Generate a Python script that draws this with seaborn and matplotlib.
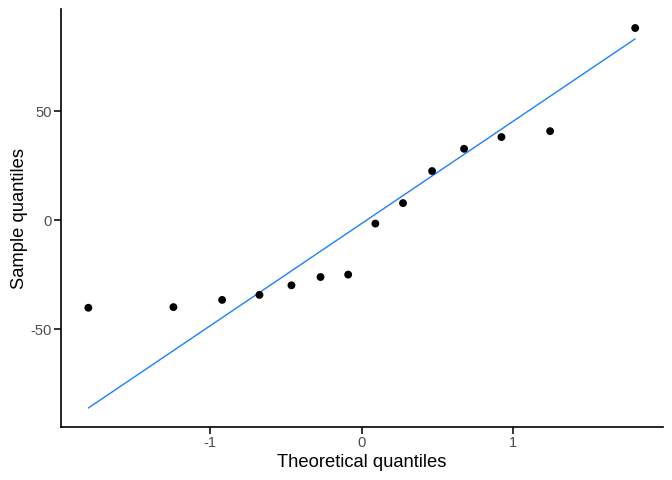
import numpy as np
import pandas as pd
import matplotlib
matplotlib.use("Agg")
import matplotlib.pyplot as plt
import seaborn as sns
from statistics import NormalDist

# Sample values (sorted)
sample = [-40.1, -39.8, -36.5, -34.2, -29.8, -26.0, -24.9,
          -1.5, 7.9, 22.6, 32.8, 38.2, 40.9, 88.2]
x_ticks = [-1, 0, 1]
y_ticks = [-50, 0, 50]
x_title = "Theoretical quantiles"
y_title = "Sample quantiles"

n = len(sample)
nd = NormalDist()
a = 0.5 if n > 10 else 3 / 8
probs = [(i + 1 - a) / (n + 1 - 2 * a) for i in range(n)]
theo = [nd.inv_cdf(p) for p in probs]
df = pd.DataFrame({"theo": theo, "sample": sorted(sample)})

# qq line through quartiles
q = np.percentile(df["sample"], [25, 75])
tq = [nd.inv_cdf(0.25), nd.inv_cdf(0.75)]
slope = (q[1] - q[0]) / (tq[1] - tq[0])
intercept = q[0] - slope * tq[0]
line_df = pd.DataFrame({"theo": [min(theo), max(theo)]})
line_df["fit"] = intercept + slope * line_df["theo"]

sns.set_theme(style="ticks")
plt.rcParams["font.family"] = ["Liberation Sans", "DejaVu Sans"]

fig = plt.figure(figsize=(6.72, 4.8), dpi=100)
ax = fig.add_axes([0.0908, 0.1104, 0.8951, 0.8708])

sns.scatterplot(data=df, x="theo", y="sample", ax=ax, color="black",
                s=32, edgecolor="none", zorder=3)
sns.lineplot(data=line_df, x="theo", y="fit", ax=ax, color="#1E7FFF",
             linewidth=1.0, zorder=2)

xr = max(theo) - min(theo)
ax.set_xlim(min(theo) - 0.05 * xr, max(theo) + 0.05 * xr)
ymin = min(min(sample), line_df["fit"].min())
ymax = max(max(sample), line_df["fit"].max())
yr = ymax - ymin
ax.set_ylim(ymin - 0.05 * yr, ymax + 0.05 * yr)

ax.set_xticks(x_ticks, labels=[str(t) for t in x_ticks])
ax.set_yticks(y_ticks, labels=[str(t) for t in y_ticks])
for side in ["top", "right"]:
    ax.spines[side].set_visible(False)
for side in ["left", "bottom"]:
    ax.spines[side].set_linewidth(1.2)
    ax.spines[side].set_color("black")

ax.set_xlabel(x_title, fontsize=13.2, color="black", labelpad=3)
ax.set_ylabel(y_title, fontsize=13.2, color="black", labelpad=2)

ax.tick_params(axis="both", which="major", direction="out", length=5,
               width=1.3, color="#222222", bottom=True, left=True,
               labelcolor="#4D4D4D", labelsize=10.6, pad=1.5)
for t in ax.xaxis.get_major_ticks() + ax.yaxis.get_major_ticks():
    t.tick1line.set_visible(True)
    t.tick1line.set_clip_on(False)
    t.tick1line.set_zorder(5)

fig.savefig("out.png", dpi=100)
